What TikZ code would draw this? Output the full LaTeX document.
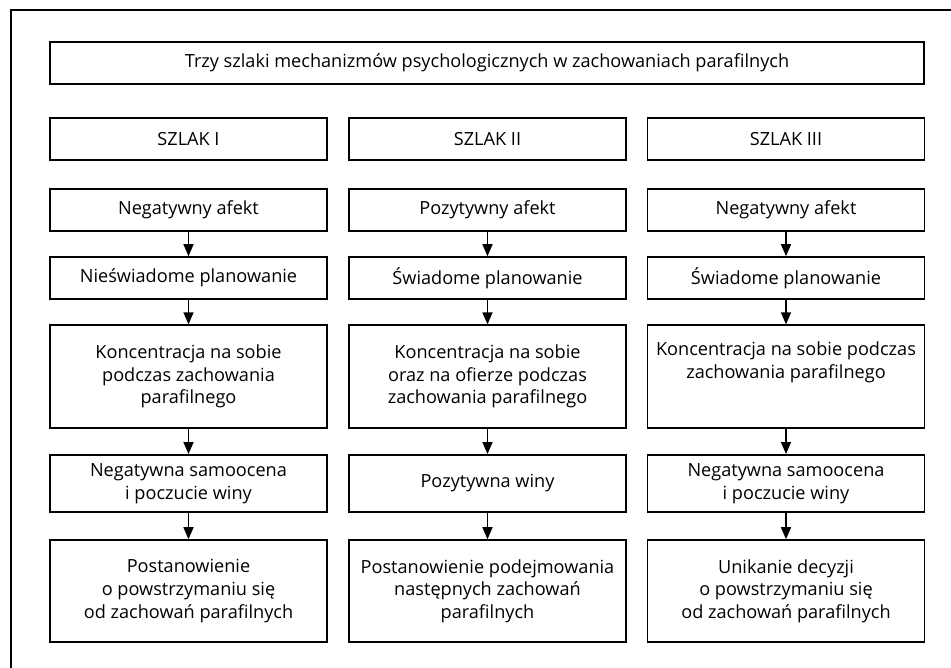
\documentclass[tikz,border=0pt]{standalone}
\usepackage{fontspec}
\setmainfont{Open Sans}
\usetikzlibrary{arrows.meta,positioning}

\begin{document}
\begin{tikzpicture}[x=0.75pt, y=-0.75pt,
    every node/.style={font=\fontsize{13.6}{17}\selectfont},
    krok/.style={draw, line width=1.2pt, align=center, inner sep=0pt, minimum width=207.75pt},
    strz/.style={line width=1.1pt, -{Triangle[length=9pt,width=7.5pt]}}]
        \useasboundingbox (0,0) rectangle (951,668);
        % ramka
        \draw[line width=0.8pt] (951,10) -- (11,10) -- (11,668);

        \node[krok, minimum width=655.5pt, minimum height=31.5pt] (tyt) at (487,63) {Trzy szlaki mechanizmów psychologicznych w zachowaniach parafilnych};

        \node[krok, minimum height=31.5pt] (s1) at (188.5,139) {SZLAK I};
        \node[krok, minimum height=31.5pt] (s2) at (487.5,139) {SZLAK II};
        \node[krok, minimum height=31.5pt] (s3) at (786,139) {SZLAK III};

        % szlak I
        \node[krok, minimum height=31.5pt] (a1) at (188.5,210) {Negatywny afekt};
        \node[krok, minimum height=31.5pt] (a2) at (188.5,278) {Nieświadome planowanie};
        \node[krok, minimum height=77pt] (a3) at (188.5,376.5) {Koncentracja na sobie\\podczas zachowania\\parafilnego};
        \node[krok, minimum height=43pt] (a4) at (188.5,483.5) {Negatywna samoocena\\i poczucie winy};
        \node[krok, minimum height=76.5pt] (a5) at (188.5,591) {Postanowienie\\o powstrzymaniu się\\od zachowań parafilnych};

        % szlak II
        \node[krok, minimum height=31.5pt] (b1) at (487.5,210) {Pozytywny afekt};
        \node[krok, minimum height=31.5pt] (b2) at (487.5,278) {Świadome planowanie};
        \node[krok, minimum height=77pt] (b3) at (487.5,376.5) {Koncentracja na sobie\\oraz na ofierze podczas\\zachowania parafilnego};
        \node[krok, minimum height=43pt] (b4) at (487.5,483.5) {Pozytywna winy};
        \node[krok, minimum height=76.5pt] (b5) at (487.5,591) {Postanowienie podejmowania\\następnych zachowań\\parafilnych};

        % szlak III
        \node[krok, minimum height=31.5pt] (c1) at (786,210) {Negatywny afekt};
        \node[krok, minimum height=31.5pt] (c2) at (786,278) {Świadome planowanie};
        \node[krok, minimum height=77pt] (c3) at (786,376.5) {Koncentracja na sobie podczas\\zachowania parafilnego\\[8pt]};
        \node[krok, minimum height=43pt] (c4) at (786,483.5) {Negatywna samoocena\\i poczucie winy};
        \node[krok, minimum height=76.5pt] (c5) at (786,591) {Unikanie decyzji\\o powstrzymaniu się\\od zachowań parafilnych};

        \draw[strz] (a1) -- (a2);
        \draw[strz] (a2) -- (a3);
        \draw[strz] (a3) -- (a4);
        \draw[strz] (a4) -- (a5);
        \draw[strz] (b1) -- (b2);
        \draw[strz] (b2) -- (b3);
        \draw[strz] (b3) -- (b4);
        \draw[strz] (b4) -- (b5);
        \draw[strz] (c1) -- (c2);
        \draw[strz] (c2) -- (c3);
        \draw[strz] (c3) -- (c4);
        \draw[strz] (c4) -- (c5);
    \end{tikzpicture}
\end{document}
